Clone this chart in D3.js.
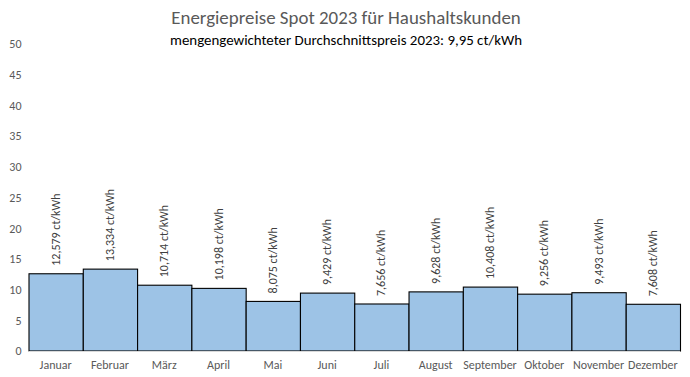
<!DOCTYPE html>
<html><head><meta charset="utf-8">
<script src="https://cdn.jsdelivr.net/npm/d3@7"></script>
<style>body{margin:0;background:#fff;} svg{display:block;}</style>
</head><body>
<svg id="c" width="690" height="377"></svg>
<script>
const months = ["Januar","Februar","März","April","Mai","Juni","Juli","August","September","Oktober","November","Dezember"];
const prices = [12.579,13.334,10.714,10.198,8.075,9.429,7.656,9.628,10.408,9.256,9.493,7.608];
const yTicks = [0,5,10,15,20,25,30,35,40,45,50];
const title = "Energiepreise Spot 2023 für Haushaltskunden";
const subtitle = "mengengewichteter Durchschnittspreis 2023: 9,95 ct/kWh";

const font = "'Liberation Sans Narrow','Arial Narrow',Carlito,Calibri,'Liberation Sans',sans-serif";
const svg = d3.select("#c");
const m = {l:28.5, r:10, t:44, b:26};
const x = d3.scaleBand().domain(months).range([m.l, 680]).padding(0);
const y = d3.scaleLinear().domain([0,50]).range([351, 44]);

svg.append("text").attr("x",346).attr("y",24).attr("text-anchor","middle")
  .attr("font-family",font).attr("font-size",18.9).attr("fill","#595959").text(title);
svg.append("text").attr("x",346).attr("y",45).attr("text-anchor","middle")
  .attr("font-family",font).attr("font-size",14.9).attr("fill","#000").text(subtitle);

// y axis labels
const ya = svg.append("g").attr("transform",`translate(${m.l - 7},0)`)
  .call(d3.axisLeft(y).tickValues(yTicks).tickSize(0).tickPadding(0));
ya.select(".domain").remove();
ya.selectAll("text").attr("font-family",font).attr("font-size",12).attr("fill","#595959");

// bars
svg.append("g").selectAll("rect").data(prices).join("rect")
  .attr("x",(d,i)=>x(months[i])+0.5).attr("y",d=>y(d))
  .attr("width",x.bandwidth()).attr("height",d=>y(0)-y(d))
  .attr("fill","#9dc3e6").attr("stroke","#000").attr("stroke-width",1.1);

// baseline
svg.append("line").attr("x1",m.l).attr("x2",680).attr("y1",y(0)+0.5).attr("y2",y(0)+0.5)
  .attr("stroke","#d9d9d9").attr("stroke-width",1);

// x axis labels
const xa = svg.append("g").attr("transform",`translate(0,${y(0)})`)
  .call(d3.axisBottom(x).tickSize(0).tickPadding(9));
xa.select(".domain").remove();
xa.selectAll("text").attr("font-family",font).attr("font-size",12).attr("fill","#595959");

// value labels
svg.append("g").selectAll("text").data(prices).join("text")
  .attr("transform",(d,i)=>`translate(${x(months[i])+x.bandwidth()/2+4},${y(d)-8}) rotate(-90)`)
  .attr("text-anchor","start").attr("font-family",font).attr("font-size",12).attr("fill","#404040")
  .text(d=>d3.format(".3f")(d).replace(".",",")+" ct/kWh");
</script>
</body></html>
